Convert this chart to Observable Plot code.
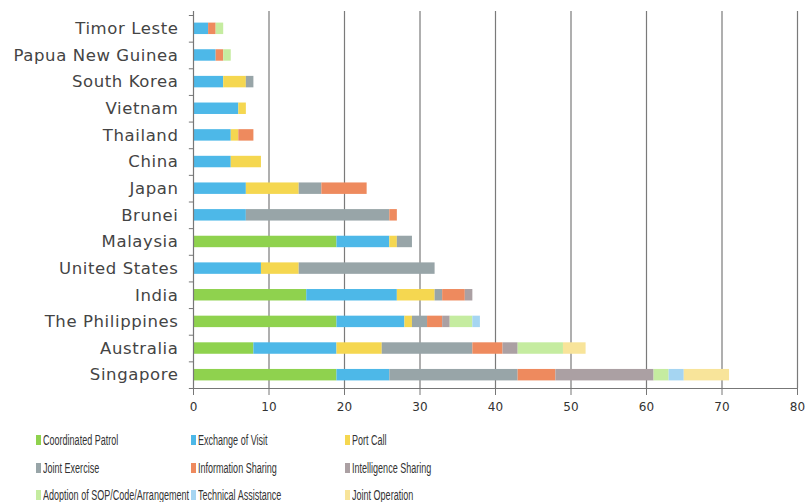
<!DOCTYPE html>
<html>
<head>
<meta charset="utf-8">
<script src="https://cdn.jsdelivr.net/npm/d3@7"></script>
<script src="https://cdn.jsdelivr.net/npm/@observablehq/plot@0.6"></script>
<style>
  body { margin: 0; background: #fff; font-family: "DejaVu Sans", sans-serif; }
  #wrap { position: relative; width: 809px; height: 502px; }
  #legend { position: absolute; left: 0; top: 432px; width: 809px; }
  .item { position: absolute; font-family: "Liberation Sans", sans-serif; font-size: 14px; color: #333; white-space: nowrap; display: flex; align-items: center; }
  .sw { width: 5px; height: 10px; margin-right: 2px; display: inline-block; }
  .lbl { display: inline-block; transform-origin: 0 50%; }
  g[aria-label="y-axis tick label"] text { letter-spacing: 0.6px; }
</style>
</head>
<body>
<div id="wrap"><div id="chart"></div><div id="legend"></div></div>
<script>
const countries = ["Timor Leste","Papua New Guinea","South Korea","Vietnam","Thailand","China","Japan","Brunei","Malaysia","United States","India","The Philippines","Australia","Singapore"];
const seriesNames = ["Coordinated Patrol","Exchange of Visit","Port Call","Joint Exercise","Information Sharing","Intelligence Sharing","Adoption of SOP/Code/Arrangement","Technical Assistance","Joint Operation"];
const seriesColors = ["#8fd24e","#4db8e8","#f5d750","#98a5a8","#ee8a5e","#aba0a3","#c5eca0","#a5d5f2","#f8e49a"];
const coordinatedPatrol   = [0,0,0,0,0,0,0,0,19,0,15,19,8,19];
const exchangeOfVisit     = [2,3,4,6,5,5,7,7,7,9,12,9,11,7];
const portCall            = [0,0,3,1,1,4,7,0,1,5,5,1,6,0];
const jointExercise       = [0,0,1,0,0,0,3,19,2,18,1,2,12,17];
const informationSharing  = [1,1,0,0,2,0,6,1,0,0,3,2,4,5];
const intelligenceSharing = [0,0,0,0,0,0,0,0,0,0,1,1,2,13];
const adoptionSOP         = [1,1,0,0,0,0,0,0,0,0,0,3,6,2];
const technicalAssistance = [0,0,0,0,0,0,0,0,0,0,0,1,0,2];
const jointOperation      = [0,0,0,0,0,0,0,0,0,0,0,0,3,6];
const xTicks = [0,10,20,30,40,50,60,70,80];

const seriesValues = [coordinatedPatrol, exchangeOfVisit, portCall, jointExercise, informationSharing, intelligenceSharing, adoptionSOP, technicalAssistance, jointOperation];
const data = [];
seriesNames.forEach((s, i) => countries.forEach((c, j) => data.push({country: c, series: s, value: seriesValues[i][j]})));

const yRange = [15, 388];
const half = (yRange[1] - yRange[0]) / countries.length / 2;
const chart = Plot.plot({
  width: 809,
  height: 420,
  marginLeft: 193,
  marginRight: 12,
  marginTop: 13,
  marginBottom: 32,
  style: {fontFamily: "DejaVu Sans, sans-serif", color: "#333", background: "transparent"},
  x: {domain: [0, 80], ticks: xTicks, label: null},
  y: {domain: countries, range: yRange, round: false, paddingInner: 0.57, paddingOuter: 0.285, label: null},
  color: {domain: seriesNames, range: seriesColors},
  marks: [
    Plot.ruleX(xTicks.slice(1), {y1: null, y2: null, stroke: "#7a7a7a", strokeWidth: 1.2, insetTop: -2}),
    Plot.barX(data, Plot.stackX({y: "country", x: "value", fill: "series", order: null})),
    Plot.ruleY([countries[0]], {x1: -0.55, x2: 0, dy: -half, stroke: "#777"}),
    Plot.ruleY(countries, {x1: -0.55, x2: 0, dy: half, stroke: "#777"}),
    Plot.ruleX([0], {stroke: "#777", strokeWidth: 1.2, insetTop: -2}),
    Plot.ruleY([countries[countries.length - 1]], {x1: 0, x2: 80, dy: half, stroke: "#777", strokeWidth: 1.2}),
    Plot.axisX({ticks: xTicks, tickSize: 7, tickPadding: 7, fontSize: 12, stroke: "#777", label: null, fill: "#333"}),
    Plot.axisY({tickSize: 0, tickPadding: 15, fontSize: 16.5, label: null, fill: "#444"})
  ]
});
document.getElementById("chart").appendChild(chart);

const legend = document.getElementById("legend");
const colX = [36, 191, 345];
const labels = [];
seriesNames.forEach((s, i) => {
  const d = document.createElement("div");
  d.className = "item";
  d.style.left = colX[i % 3] + "px";
  d.style.top = (Math.floor(i / 3) * 27.5) + "px";
  d.innerHTML = `<span class="sw" style="background:${seriesColors[i]}"></span><span class="lbl">${s}</span>`;
  legend.appendChild(d);
  labels.push(d.querySelector(".lbl"));
});
const maxW = Math.max(...labels.map(l => l.getBoundingClientRect().width));
const k = Math.min(1, 146 / maxW);
labels.forEach(l => { l.style.transform = `scaleX(${k})`; });
</script>
</body>
</html>
